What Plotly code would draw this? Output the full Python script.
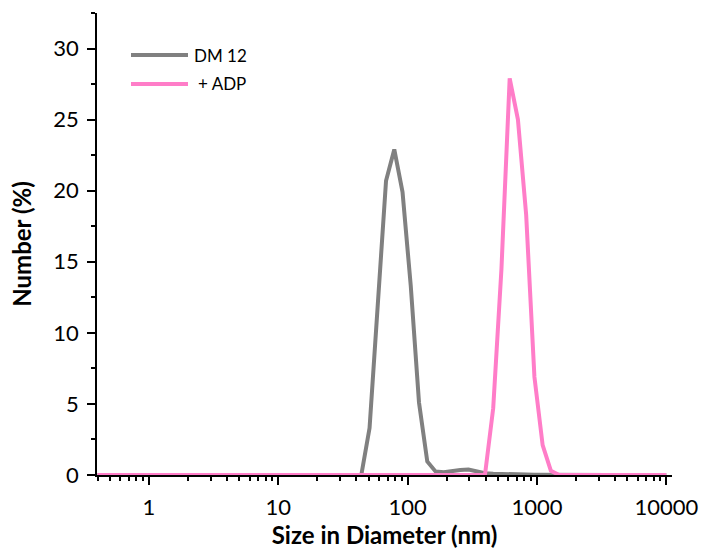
import plotly.graph_objects as go

# Size bins (nm)
sizes = [0.4, 0.4632, 0.5365, 0.6213, 0.7195, 0.8332, 0.9649, 1.117, 1.294, 1.499,
         1.736, 2.01, 2.328, 2.696, 3.122, 3.615, 4.187, 4.849, 5.615, 6.503,
         7.531, 8.721, 10.1, 11.7, 13.54, 15.69, 18.17, 21.04, 24.36, 28.21,
         32.67, 37.84, 43.82, 50.75, 58.77, 68.06, 78.82, 91.28, 105.7, 122.4,
         141.8, 164.2, 190.1, 220.2, 255.0, 295.3, 342.0, 396.1, 458.7, 531.2,
         615.1, 712.4, 825.0, 955.4, 1106, 1281, 1484, 1718, 1990, 2305,
         2669, 3091, 3580, 4145, 4801, 5560, 6439, 7456, 8635, 10000]

dm12 = [0, 0, 0, 0, 0, 0, 0, 0, 0, 0,
        0, 0, 0, 0, 0, 0, 0, 0, 0, 0,
        0, 0, 0, 0, 0, 0, 0, 0, 0, 0,
        0, 0, 0, 3.3, 11.6, 20.7, 22.9, 19.9, 13.3, 5.1,
        0.95, 0.25, 0.2, 0.3, 0.35, 0.38, 0.25, 0.13, 0.09, 0.06,
        0.05, 0.04, 0.03, 0.02, 0.01, 0, 0, 0, 0, 0,
        0, 0, 0, 0, 0, 0, 0, 0, 0, 0]

adp = [0, 0, 0, 0, 0, 0, 0, 0, 0, 0,
       0, 0, 0, 0, 0, 0, 0, 0, 0, 0,
       0, 0, 0, 0, 0, 0, 0, 0, 0, 0,
       0, 0, 0, 0, 0, 0, 0, 0, 0, 0,
       0, 0, 0, 0, 0, 0, 0, 0, 4.7, 14.5,
       27.9, 25.0, 18.3, 6.9, 2.1, 0.3, 0, 0, 0, 0,
       0, 0, 0, 0, 0, 0, 0, 0, 0, 0]

series_names = ["DM 12", "+ ADP"]
series_colors = ["rgb(128,128,128)", "rgb(255,125,200)"]

x_major = [1, 10, 100, 1000, 10000]
x_major_text = ["1", "10", "100", "1000", "10000"]
x_minor = [0.4, 0.5, 0.6, 0.7, 0.8, 0.9,
           2, 3, 4, 5, 6, 7, 8, 9,
           20, 30, 40, 50, 60, 70, 80, 90,
           200, 300, 400, 500, 600, 700, 800, 900,
           2000, 3000, 4000, 5000, 6000, 7000, 8000, 9000]

fig = go.Figure()
for name, ys, col in zip(series_names, [dm12, adp], series_colors):
    fig.add_trace(go.Scatter(x=sizes, y=ys, mode="lines", name=name,
                             line=dict(color=col, width=4), showlegend=False))

tickfont = dict(family="Lato", size=22, color="black")
titlefont = dict(family="Lato", size=24, color="black", weight="bold")

fig.update_layout(
    width=702, height=555,
    margin=dict(l=97, r=30, t=13, b=80),
    plot_bgcolor="white", paper_bgcolor="white",
    xaxis=dict(type="log", range=[-0.402, 4.044], automargin=False,
               showline=True, linecolor="black", linewidth=1.5,
               ticks="outside", ticklen=8, tickwidth=1.5, tickcolor="black",
               tickvals=x_major, ticktext=x_major_text,
               minor=dict(ticks="outside", ticklen=4, tickwidth=1.5, tickcolor="black",
                          tickvals=x_minor, showgrid=False),
               showgrid=False, zeroline=False, tickfont=tickfont,
               ticklabelstandoff=4,
               title=dict(text="Size in Diameter (nm)", font=titlefont, standoff=3)),
    yaxis=dict(range=[0, 32.5], dtick=5, tick0=0, automargin=False,
               showline=True, linecolor="black", linewidth=1.5,
               ticks="outside", ticklen=8, tickwidth=1.5, tickcolor="black",
               minor=dict(ticks="outside", ticklen=4, tickwidth=1.5, tickcolor="black",
                          dtick=2.5, showgrid=False),
               showgrid=False, zeroline=False, tickfont=tickfont,
               ticklabelstandoff=4,
               title=dict(text="Number (%)", font=titlefont, standoff=15)),
)

# Manual legend (line samples + labels)
def px_to_paper_x(px):
    return (px - 97) / 575.0

def px_to_paper_y(py):
    return (475 - py) / 462.0

legend_y = [55, 84]
legend_text_x = [192, 196]
for name, col, ly, tx in zip(series_names, series_colors, legend_y, legend_text_x):
    fig.add_shape(type="line", xref="paper", yref="paper",
                  x0=px_to_paper_x(131), x1=px_to_paper_x(188),
                  y0=px_to_paper_y(ly), y1=px_to_paper_y(ly),
                  line=dict(color=col, width=4))
    fig.add_annotation(xref="paper", yref="paper", x=px_to_paper_x(tx), y=px_to_paper_y(ly),
                       text=name, showarrow=False, xanchor="left", yanchor="middle",
                       font=dict(family="Lato", size=17, color="black"))

fig.write_html("out.html")
